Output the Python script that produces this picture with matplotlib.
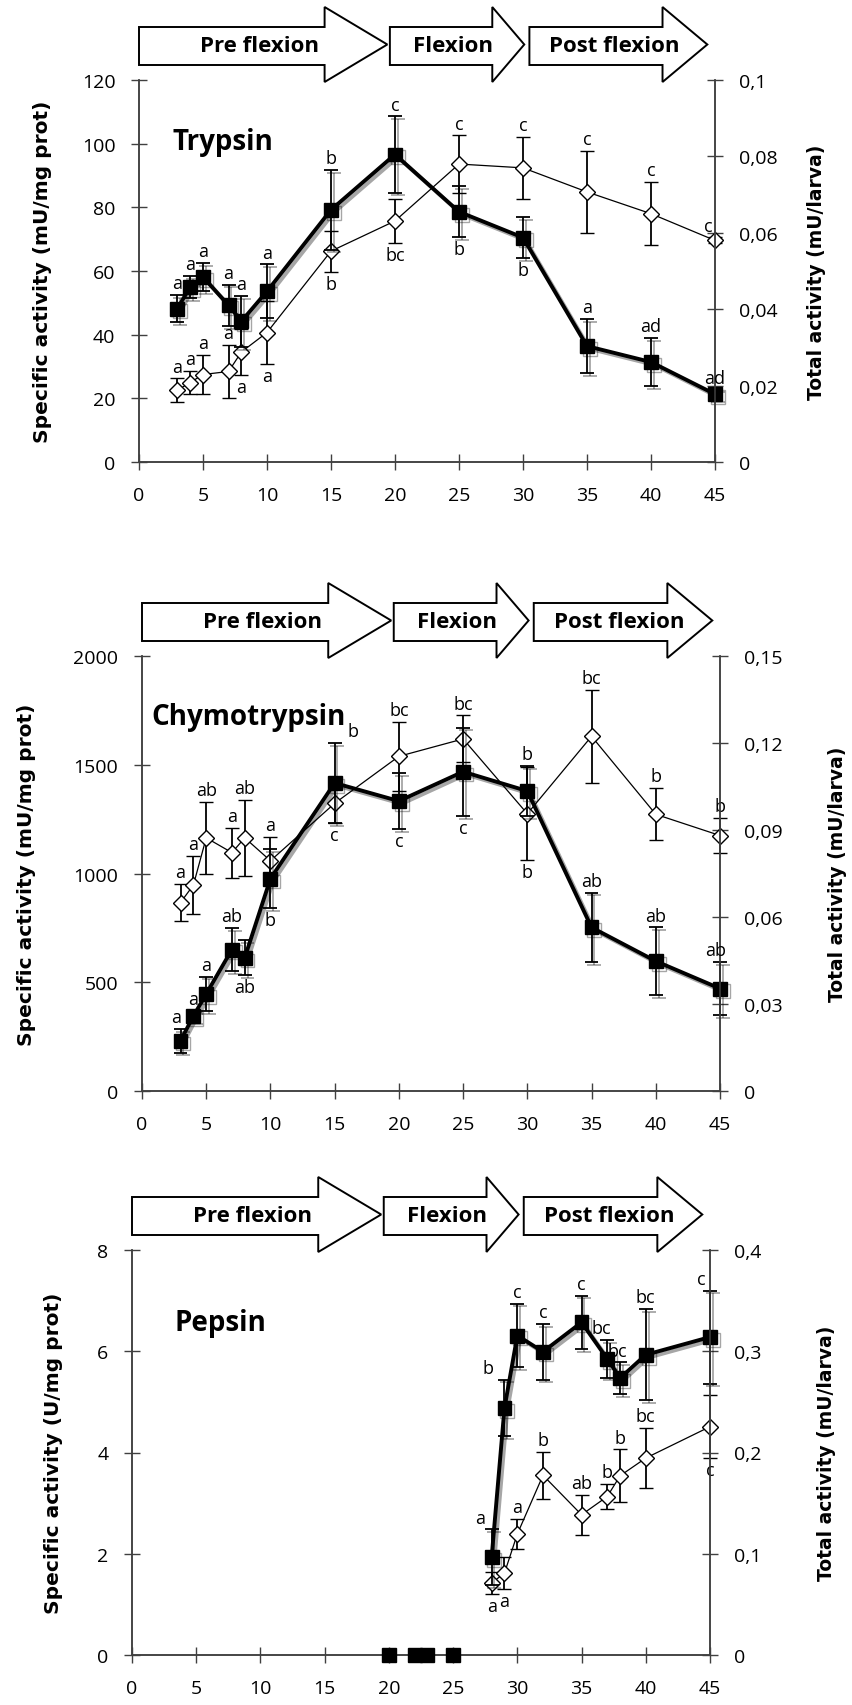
import matplotlib
matplotlib.use('Agg')
import matplotlib.pyplot as plt
import matplotlib.patheffects as pe
from matplotlib.patches import Polygon
from matplotlib.transforms import blended_transform_factory

plt.rcParams['font.family'] = ['Open Sans', 'DejaVu Sans']

# ---- data (days after hatching) ----
days = [3, 4, 5, 7, 8, 10, 15, 20, 25, 30, 35, 40, 45]

# Trypsin
tr_spec = [48.2, 55.0, 58.1, 49.2, 44.2, 53.6, 79.2, 96.6, 78.6, 70.5, 36.4, 31.4, 21.3]
tr_spec_err = [4.3, 3.4, 4.5, 6.5, 8.0, 8.5, 12.5, 12.0, 8.0, 6.5, 8.5, 7.5, 1.5]
tr_total = [0.0188, 0.0208, 0.0229, 0.0237, 0.0288, 0.0339, 0.0552, 0.0631, 0.078, 0.077, 0.0707, 0.065, 0.058]
tr_total_err = [0.0031, 0.0031, 0.0052, 0.007, 0.0061, 0.0082, 0.0054, 0.0058, 0.0075, 0.0082, 0.0108, 0.0083, 0.0008]
tr_spec_lab = ['a', 'a', 'a', 'a', 'a', 'a', 'b', 'c', 'b', 'b', 'a', 'ad', 'ad']
tr_spec_pos = ['u', 'u', 'u', 'u', 'u', 'u', 'u', 'u', 'd', 'd', 'u', 'u', 'u']
tr_total_lab = ['a', 'a', 'a', 'a', 'a', 'a', 'b', 'bc', 'c', 'c', 'c', 'c', 'c']
tr_total_pos = ['u', 'u', 'u', 'u', 'd', 'd', 'd', 'd', 'u', 'u', 'u', 'u', 'u']

# Chymotrypsin
ch_spec = [231, 344, 446, 650, 613, 976, 1416, 1333, 1468, 1379, 752, 597, 471]
ch_spec_err = [55, 25, 80, 100, 80, 135, 183, 130, 203, 115, 160, 155, 123]
ch_total = [0.065, 0.071, 0.0873, 0.0822, 0.0873, 0.0794, 0.0992, 0.1154, 0.1214, 0.0956, 0.1223, 0.0954, 0.0881]
ch_total_err = [0.0064, 0.010, 0.0124, 0.0086, 0.0131, 0.0083, 0.0068, 0.0119, 0.0081, 0.0161, 0.016, 0.009, 0.006]
ch_spec_lab = ['a', 'a', 'a', 'ab', 'ab', 'b', 'b', 'c', 'c', 'b', 'ab', 'ab', 'ab']
ch_spec_pos = ['u', 'u', 'u', 'u', 'd', 'd', 'u', 'd', 'd', 'u', 'u', 'u', 'u']
ch_total_lab = ['a', 'a', 'ab', 'a', 'ab', 'a', 'c', 'bc', 'bc', 'b', 'bc', 'b', 'b']
ch_total_pos = ['u', 'u', 'u', 'u', 'u', 'u', 'd', 'u', 'u', 'd', 'u', 'u', 'u']

# Pepsin
pe_zero_days = [20, 22, 23, 25]
pe_zero = [0, 0, 0, 0]
pe_days = [28, 29, 30, 32, 35, 37, 38, 40, 45]
pe_spec = [1.93, 4.88, 6.31, 5.99, 6.57, 5.85, 5.47, 5.93, 6.28]
pe_spec_err = [0.55, 0.56, 0.63, 0.55, 0.53, 0.37, 0.31, 0.9, 0.92]
pe_total = [0.071, 0.081, 0.1195, 0.1775, 0.1385, 0.1565, 0.177, 0.1945, 0.2255]
pe_total_err = [0.011, 0.016, 0.015, 0.023, 0.02, 0.0125, 0.026, 0.03, 0.031]
pe_spec_lab = ['a', 'b', 'c', 'c', 'c', 'bc', 'bc', 'bc', 'c']
pe_spec_pos = ['u', 'u', 'u', 'u', 'u', 'u', 'u', 'u', 'u']
pe_total_lab = ['a', 'a', 'a', 'b', 'ab', 'b', 'b', 'bc', 'c']
pe_total_pos = ['d', 'd', 'u', 'u', 'u', 'u', 'u', 'u', 'd']

# developmental phases (days)
phases = ['Pre flexion', 'Flexion', 'Post flexion']
phase_start = [0, 19.6, 30.5]
phase_tip = [19.4, 30.1, 44.4]
phase_head = [4.9, 2.5, 3.5]

W, H = 853, 1706
fig = plt.figure(figsize=(W / 100, H / 100), dpi=100)
AX_COL = '#404040'


def make_axes(left, right, top, bottom):
    return fig.add_axes([left / W, 1 - bottom / H, (right - left) / W, (bottom - top) / H])


def letters(ax, xs, ys, errs, labs, pos, dx=None):
    for i, (x, y, e, t, p) in enumerate(zip(xs, ys, errs, labs, pos)):
        off = dx[i] if dx else 0
        if p == 'u':
            ax.annotate(t, (x, y + e), xytext=(off, 2), textcoords='offset points',
                        ha='center', va='bottom', fontsize=13, clip_on=False)
        else:
            ax.annotate(t, (x, y - e), xytext=(off, -2), textcoords='offset points',
                        ha='center', va='top', fontsize=13, clip_on=False)


def arrows(ax):
    hpx = ax.get_position().height * H
    tr = blended_transform_factory(ax.transData, ax.transAxes)
    b0, b1 = 1 + 15 / hpx, 1 + 53 / hpx
    h0, h1 = 1 - 2 / hpx, 1 + 73 / hpx
    ym = (h0 + h1) / 2
    for name, x0, x1, hl in zip(phases, phase_start, phase_tip, phase_head):
        pts = [(x0, b0), (x1 - hl, b0), (x1 - hl, h0), (x1, ym),
               (x1 - hl, h1), (x1 - hl, b1), (x0, b1)]
        ax.add_patch(Polygon(pts, closed=True, transform=tr, fc='white', ec='black',
                             lw=1.4, clip_on=False, zorder=10))
        ax.text((x0 + x1) / 2 - 0.3, (b0 + b1) / 2, name, transform=tr, ha='center',
                va='center', fontsize=16, fontweight='bold', zorder=11)


def style(ax, ax2, ymax, yticks, rmax, rticks, rlabels):
    ax.set_xlim(0, 45)
    ax.set_xticks(range(0, 50, 5))
    ax.set_ylim(0, ymax)
    ax.set_yticks(yticks)
    ax2.set_ylim(0, rmax)
    ax2.set_yticks(rticks)
    ax2.set_yticklabels(rlabels)
    for a in (ax, ax2):
        a.spines['top'].set_visible(False)
        for s in ('left', 'right', 'bottom'):
            a.spines[s].set_color(AX_COL)
            a.spines[s].set_linewidth(1.1)
        a.tick_params(direction='inout', length=12, width=1, color=AX_COL,
                      labelsize=14, pad=11)
    ax.set_zorder(ax2.get_zorder() + 1)
    ax.patch.set_visible(False)
    arrows(ax)


def series(ax, ax2, x, spec, spec_err, total, total_err):
    ax2.errorbar(x, total, yerr=total_err, fmt='-', color='black', lw=0.9,
                 marker='D', ms=8, mfc='white', mec='black', mew=1,
                 ecolor='black', elinewidth=1.3, capsize=5, capthick=1.3, clip_on=False)
    ax.errorbar(x, spec, yerr=spec_err, fmt='-', color='black', lw=2.8,
                marker='s', ms=10, mfc='black', mec='black',
                ecolor='black', elinewidth=1.3, capsize=5, capthick=1.3, clip_on=False,
                path_effects=[pe.SimpleLineShadow(offset=(2, -2), alpha=0.35), pe.Normal()])


def side_labels(ax, xl, xr, left_text):
    pos = ax.get_position()
    yc = pos.y0 + pos.height / 2
    fig.text(xl / W, yc, left_text, rotation=90, ha='center', va='center',
             fontsize=14.5, fontweight='bold', family='DejaVu Sans')
    fig.text(xr / W, yc, 'Total activity (mU/larva)', rotation=90, ha='center',
             va='center', fontsize=13.5, fontweight='bold', family='DejaVu Sans')


# ---- Trypsin ----
ax_tr = make_axes(139, 715, 81, 463)
ax_tr2 = ax_tr.twinx()
series(ax_tr, ax_tr2, days, tr_spec, tr_spec_err, tr_total, tr_total_err)
style(ax_tr, ax_tr2, 120, range(0, 121, 20), 0.1, [0, 0.02, 0.04, 0.06, 0.08, 0.1],
      ['0', '0,02', '0,04', '0,06', '0,08', '0,1'])
letters(ax_tr, days, tr_spec, tr_spec_err, tr_spec_lab, tr_spec_pos)
letters(ax_tr2, days, tr_total, tr_total_err, tr_total_lab, tr_total_pos,
        dx=[0, 0, 0, 0, 0, 0, 0, 0, 0, 0, 0, 0, -5])
ax_tr.text(2.65, 0.84, 'Trypsin', transform=blended_transform_factory(ax_tr.transData, ax_tr.transAxes),
           fontsize=20, fontweight='bold', va='center')

# ---- Chymotrypsin ----
ax_ch = make_axes(142, 720, 657, 1092)
ax_ch2 = ax_ch.twinx()
series(ax_ch, ax_ch2, days, ch_spec, ch_spec_err, ch_total, ch_total_err)
style(ax_ch, ax_ch2, 2000, range(0, 2001, 500), 0.15, [0, 0.03, 0.06, 0.09, 0.12, 0.15],
      ['0', '0,03', '0,06', '0,09', '0,12', '0,15'])
letters(ax_ch, days, ch_spec, ch_spec_err, ch_spec_lab, ch_spec_pos,
        dx=[-3, 0, 0, 0, 0, 0, 13, 0, 0, 0, 0, 0, -3])
letters(ax_ch2, days, ch_total, ch_total_err, ch_total_lab, ch_total_pos)
ax_ch.text(0.7, 0.86, 'Chymotrypsin', transform=blended_transform_factory(ax_ch.transData, ax_ch.transAxes),
           fontsize=20, fontweight='bold', va='center')

# ---- Pepsin ----
ax_pe = make_axes(132, 710, 1251, 1656)
ax_pe2 = ax_pe.twinx()
series(ax_pe, ax_pe2, pe_days, pe_spec, pe_spec_err, pe_total, pe_total_err)
ax_pe.plot(pe_zero_days, pe_zero, 's', color='black', ms=10, clip_on=False, zorder=5)
style(ax_pe, ax_pe2, 8, range(0, 9, 2), 0.4, [0, 0.1, 0.2, 0.3, 0.4],
      ['0', '0,1', '0,2', '0,3', '0,4'])
letters(ax_pe, pe_days, pe_spec, pe_spec_err, pe_spec_lab, pe_spec_pos,
        dx=[-8, -12, 0, 0, 0, -4, -2, 0, -6])
letters(ax_pe2, pe_days, pe_total, pe_total_err, pe_total_lab, pe_total_pos)
ax_pe.text(3.3, 0.822, 'Pepsin', transform=blended_transform_factory(ax_pe.transData, ax_pe.transAxes),
           fontsize=20, fontweight='bold', va='center')

side_labels(ax_tr, 43, 817, 'Specific activity (mU/mg prot)')
side_labels(ax_ch, 27, 838, 'Specific activity (mU/mg prot)')
side_labels(ax_pe, 54, 827, 'Specific activity (U/mg prot)')

fig.savefig('out.png', dpi=100)
